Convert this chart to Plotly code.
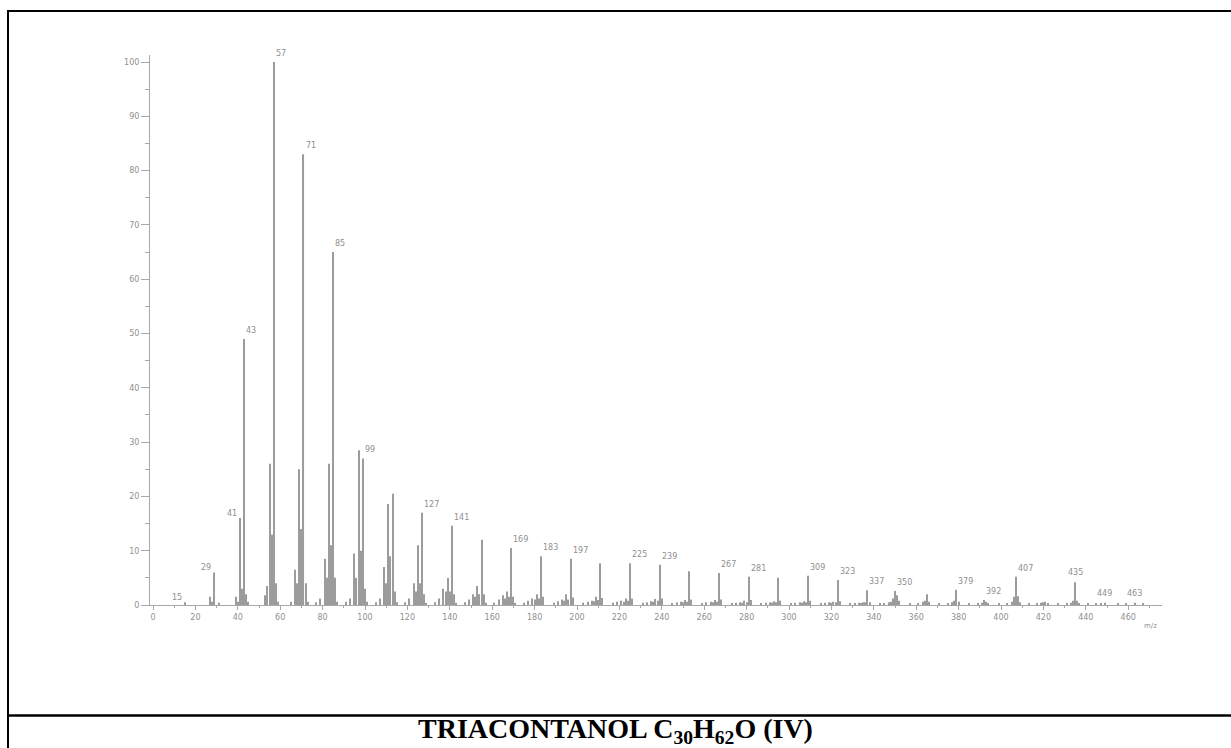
import plotly.graph_objects as go

# Mass spectrum of triacontanol: m/z and relative intensity (%)
mz = [15, 27, 28, 29, 31, 39, 40, 41, 42, 43, 44, 45,
      53, 54, 55, 56, 57, 58, 59,
      65, 67, 68, 69, 70, 71, 72, 73,
      77, 79, 81, 82, 83, 84, 85, 86, 87,
      91, 93, 95, 96, 97, 98, 99, 100, 101,
      105, 107, 109, 110, 111, 112, 113, 114, 115,
      119, 121, 123, 124, 125, 126, 127, 128, 129,
      133, 135, 137, 138, 139, 140, 141, 142, 143,
      147, 149, 151, 152, 153, 154, 155, 156, 157,
      161, 163, 165, 166, 167, 168, 169, 170, 171,
      175, 177, 179, 180, 181, 182, 183, 184,
      189, 191, 193, 194, 195, 196, 197, 198,
      203, 205, 207, 208, 209, 210, 211, 212,
      217, 219, 221, 222, 223, 224, 225, 226,
      231, 233, 235, 236, 237, 238, 239, 240,
      245, 247, 249, 250, 251, 252, 253, 254,
      259, 261, 263, 264, 265, 266, 267, 268,
      273, 275, 277, 278, 279, 280, 281, 282,
      287, 289, 291, 292, 293, 294, 295, 296,
      301, 303, 305, 306, 307, 308, 309, 310,
      315, 317, 319, 320, 321, 322, 323, 324,
      329, 331, 333, 334, 335, 336, 337, 338,
      343, 345, 347, 348, 349, 350, 351, 352,
      357, 361, 363, 364, 365, 366,
      371, 375, 377, 378, 379, 380,
      385, 389, 391, 392, 393, 394,
      399, 403, 405, 406, 407, 408, 409,
      413, 417, 419, 420, 421, 422,
      427, 431, 433, 434, 435, 436, 437,
      441, 445, 447, 449, 455, 459, 463, 467]

intensity = [0.5, 1.5, 0.6, 6.0, 0.4, 1.5, 0.6, 16.0, 3.0, 49.0, 2.0, 0.6,
             1.8, 3.5, 26.0, 13.0, 100.0, 4.0, 0.6,
             0.6, 6.5, 4.0, 25.0, 14.0, 83.0, 4.0, 0.6,
             0.5, 1.2, 8.5, 5.0, 26.0, 11.0, 65.0, 5.0, 0.6,
             0.6, 1.2, 9.5, 5.0, 28.5, 10.0, 27.0, 3.0, 0.6,
             0.5, 1.2, 7.0, 4.0, 18.6, 9.0, 20.5, 2.5, 0.5,
             0.5, 1.2, 4.0, 2.5, 11.0, 4.0, 17.0, 2.0, 0.4,
             0.5, 1.2, 3.0, 2.5, 5.0, 2.5, 14.6, 2.0, 0.4,
             0.5, 1.0, 2.0, 1.5, 3.5, 2.0, 12.0, 2.0, 0.4,
             0.4, 1.0, 1.8, 1.2, 2.5, 1.5, 10.5, 1.5, 0.4,
             0.4, 0.8, 1.2, 1.0, 2.0, 1.2, 9.0, 1.5,
             0.4, 0.7, 1.0, 0.8, 2.0, 1.0, 8.5, 1.4,
             0.4, 0.6, 0.8, 0.7, 1.5, 0.9, 7.7, 1.3,
             0.4, 0.6, 0.8, 0.6, 1.2, 0.8, 7.7, 1.2,
             0.4, 0.5, 0.7, 0.6, 1.1, 0.8, 7.4, 1.2,
             0.3, 0.5, 0.6, 0.5, 0.9, 0.6, 6.2, 1.0,
             0.3, 0.5, 0.6, 0.5, 0.9, 0.6, 5.9, 1.0,
             0.3, 0.4, 0.5, 0.4, 0.8, 0.5, 5.2, 0.9,
             0.3, 0.4, 0.5, 0.4, 0.7, 0.5, 5.0, 0.8,
             0.3, 0.4, 0.5, 0.4, 0.7, 0.5, 5.4, 0.8,
             0.3, 0.4, 0.5, 0.4, 0.6, 0.5, 4.6, 0.7,
             0.3, 0.3, 0.4, 0.3, 0.5, 0.5, 2.7, 0.5,
             0.3, 0.3, 0.5, 0.6, 1.2, 2.6, 1.8, 0.8,
             0.3, 0.3, 0.6, 0.8, 2.0, 0.6,
             0.3, 0.3, 0.5, 0.8, 2.8, 0.6,
             0.3, 0.3, 0.4, 0.9, 0.6, 0.3,
             0.3, 0.3, 0.6, 1.5, 5.2, 1.6, 0.5,
             0.3, 0.3, 0.4, 0.5, 0.6, 0.3,
             0.3, 0.3, 0.4, 0.8, 4.2, 0.8, 0.3,
             0.3, 0.3, 0.3, 0.4, 0.3, 0.3, 0.4, 0.3]

# Peaks annotated with their m/z
labelled_left = [15, 29, 41]
labelled_right = [43, 57, 71, 85, 99, 127, 141, 169, 183, 197, 225, 239,
                  267, 281, 309, 323, 337, 350, 379, 392, 407]
labelled_centre = [435, 449, 463]

x_ticks = list(range(0, 461, 20))
y_ticks = list(range(0, 101, 10))

title_text = "<b>TRIACONTANOL C<sub>30</sub>H<sub>62</sub>O (IV)</b>"

# Plot-area geometry in pixels (figure 1231 x 748)
W, H = 1231, 748
L, R, T, B = 150, 1162, 55, 605
PW, PH = R - L, B - T


def px_x(px):
    return (px - L) / PW


def px_y(py):
    return (B - py) / PH


peak_colour = "#9c9c9c"
text_colour = "#8f8f8f"
axis_colour = "#a8a8a8"

fig = go.Figure()
fig.add_trace(go.Bar(x=mz, y=intensity, width=0.5,
                     marker=dict(color=peak_colour, line=dict(width=0)),
                     hoverinfo="x+y"))

height_of = dict(zip(mz, intensity))
annotations = []
lab_font = dict(family="DejaVu Sans", size=8, color=text_colour)
for m in labelled_left:
    annotations.append(dict(x=m, y=height_of[m], xref="x", yref="y", text=str(m),
                            showarrow=False, xanchor="right", yanchor="bottom",
                            xshift=-1, yshift=-2, font=lab_font))
for m in labelled_right:
    annotations.append(dict(x=m, y=height_of[m], xref="x", yref="y", text=str(m),
                            showarrow=False, xanchor="left", yanchor="bottom",
                            xshift=0, yshift=2, font=lab_font))
for m in labelled_centre:
    annotations.append(dict(x=m, y=height_of[m], xref="x", yref="y", text=str(m),
                            showarrow=False, xanchor="center", yanchor="bottom",
                            xshift=0, yshift=3, font=lab_font))

annotations.append(dict(x=px_x(1150), y=px_y(626), xref="paper", yref="paper",
                        text="m/z", showarrow=False, xanchor="center", yanchor="middle",
                        font=dict(family="DejaVu Sans", size=7, color=text_colour)))
annotations.append(dict(x=px_x(615.5), y=px_y(730), xref="paper", yref="paper",
                        text=title_text, showarrow=False, xanchor="center",
                        yanchor="middle",
                        font=dict(family="Liberation Serif", size=28, color="black")))

shape_line = dict(color="black", width=2)
shapes = [
    dict(type="line", xref="paper", yref="paper", x0=px_x(8), x1=px_x(8),
         y0=px_y(10), y1=px_y(760), line=shape_line),
    dict(type="line", xref="paper", yref="paper", x0=px_x(7), x1=px_x(1240),
         y0=px_y(11), y1=px_y(11), line=shape_line),
    dict(type="line", xref="paper", yref="paper", x0=px_x(7), x1=px_x(1240),
         y0=px_y(715.5), y1=px_y(715.5), line=dict(color="black", width=2.5)),
]

x_per_px = 1 / 2.12
y_per_px = 1 / 5.43
fig.update_layout(
    width=W, height=H,
    margin=dict(l=L, r=W - R, t=T, b=H - B, pad=0),
    paper_bgcolor="white", plot_bgcolor="white",
    showlegend=False,
    annotations=annotations,
    shapes=shapes,
    xaxis=dict(range=[(L - 153) * x_per_px, (R - 153) * x_per_px],
               tickvals=x_ticks, ticktext=[str(v) for v in x_ticks],
               ticks="outside", ticklen=4, tickcolor=axis_colour, tickwidth=1,
               showline=True, linecolor=axis_colour, linewidth=1,
               showgrid=False, zeroline=False,
               tickfont=dict(family="DejaVu Sans", size=8, color=text_colour),
               minor=dict(dtick=10, tick0=0, ticks="outside", ticklen=2,
                          tickcolor=axis_colour, showgrid=False)),
    yaxis=dict(range=[0, (B - T) * y_per_px],
               tickvals=y_ticks, ticktext=[str(v) for v in y_ticks],
               ticks="outside", ticklen=8, tickcolor=axis_colour, tickwidth=1,
               showline=True, linecolor=axis_colour, linewidth=1,
               showgrid=False, zeroline=False,
               tickfont=dict(family="DejaVu Sans", size=8, color=text_colour),
               minor=dict(dtick=5, tick0=0, ticks="outside", ticklen=4,
                          tickcolor=axis_colour, showgrid=False)),
)

fig.write_html("out.html")
